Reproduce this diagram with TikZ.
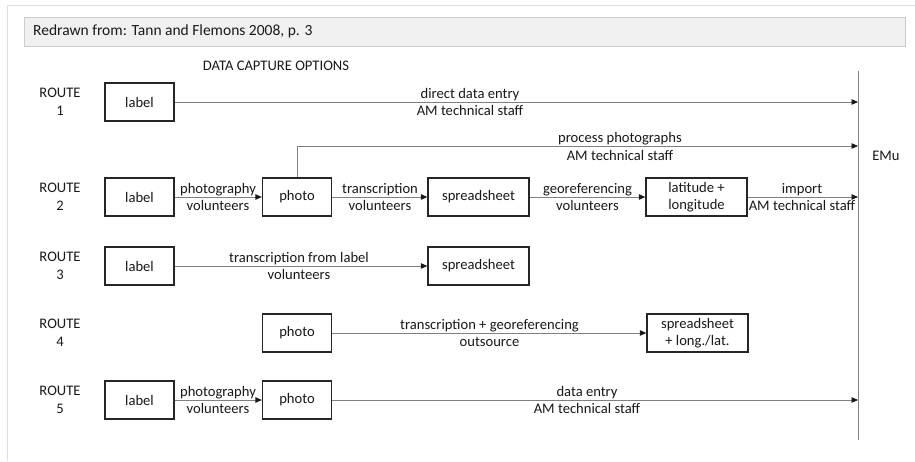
\documentclass[tikz,border=0pt]{standalone}
\usepackage{fontspec}
\setmainfont{Carlito}
\usetikzlibrary{arrows.meta}
\begin{document}
\begin{tikzpicture}[x=1pt,y=-1pt,
  font=\fontsize{14.6}{17.5}\selectfont,
  every node/.style={text=black!90},
  boxS/.style={draw=black!85, line width=1.3pt, minimum width=69pt, minimum height=38pt, inner sep=1pt, align=center},
  boxL/.style={boxS, minimum width=101pt},
  rt/.style={align=center, inner sep=0pt},
  lbl/.style={align=center, inner sep=0pt},
  flow/.style={draw=black!50, line width=0.9pt, -{Triangle[length=6.5pt,width=5.5pt,color=black!90]}},
  emuline/.style={draw=black!50, line width=0.9pt},
  framer/.style={draw=black!13, line width=1pt},
  titlebar/.style={draw=black!20, fill=black!6, line width=0.8pt}
]
% canvas and outer frame
\fill[white] (0,0) rectangle (915,461);
\useasboundingbox (0,0) rectangle (915,461);
\draw[framer] (7,461) -- (7,5) -- (915,5);

% heading
\draw[titlebar] (24,17) rectangle (905,46);
\node[anchor=west, inner sep=0pt, font=\fontsize{15.5}{18.5}\selectfont] (ttl) at (33,31.5) {Redrawn from: Tann and Flemons 2008, p. 3};
\node[inner sep=0pt] (hdr) at (276,66) {DATA CAPTURE OPTIONS};

% EMu receiving line
\coordinate (emutop) at (858,71);
\coordinate (emubot) at (858,440);
\draw[emuline] (emutop) -- (emubot);
\node[inner sep=0pt] (emu) at (886,156) {EMu};

% route captions
\node[rt] (r1) at (60,102) {ROUTE\\1};
\node[rt] (r2) at (60,197) {ROUTE\\2};
\node[rt] (r3) at (60,266) {ROUTE\\3};
\node[rt] (r4) at (60,333) {ROUTE\\4};
\node[rt] (r5) at (60,400) {ROUTE\\5};

% route 1
\node[boxS] (l1) at (139.5,102) {label};
\coordinate (e1) at (858,102);
\draw[flow] (l1) -- (e1);
\node[lbl] (t1) at (470,102) {direct data entry\\AM technical staff};

% route 2
\node[boxS] (l2) at (139.5,197) {label};
\node[boxS] (p2) at (297,197) {photo};
\node[boxL] (s2) at (478.5,197) {spreadsheet};
\node[boxL] (g2) at (696.5,197) {latitude +\\longitude};
\coordinate (e2) at (858,197);
\coordinate (e2p) at (858,146);
\draw[flow] (l2) -- (p2);
\draw[flow] (p2) -- (s2);
\draw[flow] (s2) -- (g2);
\draw[flow] (g2) -- (e2);
\draw[flow] (p2.north) |- (e2p);
\node[lbl] (t2a) at (218,197) {photography\\volunteers};
\node[lbl] (t2b) at (380,197) {transcription\\volunteers};
\node[lbl] (t2c) at (587.5,197) {georeferencing\\volunteers};
\node[lbl] (t2d) at (802,197) {import\\AM technical staff};
\node[lbl] (t2e) at (620,146.5) {process photographs\\AM technical staff};

% route 3
\node[boxS] (l3) at (139.5,266) {label};
\node[boxL] (s3) at (478.5,266) {spreadsheet};
\draw[flow] (l3) -- (s3);
\node[lbl] (t3) at (299,266) {transcription from label\\volunteers};

% route 4
\node[boxS] (p4) at (297,333) {photo};
\node[boxL] (s4) at (697.5,333) {spreadsheet\\+ long./lat.};
\draw[flow] (p4) -- (s4);
\node[lbl] (t4) at (489.5,333) {transcription + georeferencing\\outsource};

% route 5
\node[boxS] (l5) at (139.5,400) {label};
\node[boxS] (p5) at (297,400) {photo};
\coordinate (e5) at (858,400);
\draw[flow] (l5) -- (p5);
\draw[flow] (p5) -- (e5);
\node[lbl] (t5a) at (218,400) {photography\\volunteers};
\node[lbl] (t5b) at (587,400) {data entry\\AM technical staff};
\end{tikzpicture}
\end{document}
